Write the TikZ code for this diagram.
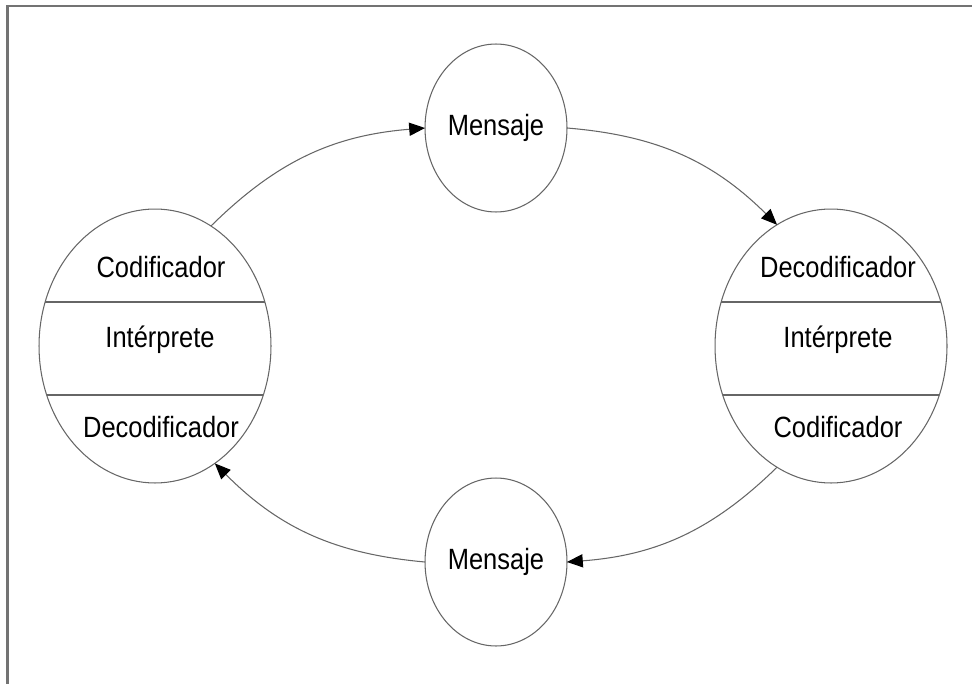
\documentclass[tikz,border=0pt]{standalone}
\usepackage{fontspec}
\setmainfont{Liberation Sans}
\usetikzlibrary{shapes.geometric,arrows.meta}
\newcommand{\tallt}[1]{\scalebox{1}[1.15]{#1}}

\begin{document}
\begin{tikzpicture}[x=0.02cm,y=0.02cm,
    every node/.style={inner sep=0pt,outer sep=0pt,font=\fontsize{14.5}{17}\selectfont},
    rim/.style={draw=black!60,line width=0.6pt},
    agent/.style={rim,ellipse,minimum width=4.64cm,minimum height=5.48cm},
    msg/.style={rim,ellipse,minimum width=2.84cm,minimum height=3.36cm},
    flow/.style={draw=black!60,line width=0.6pt,-{Triangle[length=9pt,width=7.5pt,color=black]},bend left=20}]
    \useasboundingbox (0,0) rectangle (972,684);
    % frame
    \draw [black!55,line width=1.2pt] (972,678) -- (7.5,678) -- (7.5,0);
    % the four circles
    \node [agent] (emisor) at (155,338) {};
    \node [agent] (receptor) at (831,338) {};
    \node [msg] (msgtop) at (496,556) {\tallt{Mensaje}};
    \node [msg] (msgbot) at (496,122) {\tallt{Mensaje}};
    % bands inside the big circles
    \begin{scope}
    \clip (emisor.center) ellipse [x radius=116, y radius=137];
    \draw [rim] (0,382) -- (320,382);
    \draw [rim] (0,289) -- (320,289);
    \end{scope}
    \begin{scope}
    \clip (receptor.center) ellipse [x radius=116, y radius=137];
    \draw [rim] (680,382) -- (972,382);
    \draw [rim] (680,289) -- (972,289);
    \end{scope}
    \node (ecod) at (161,417) {\tallt{Codificador}};
    \node (eint) at (160,344) {\tallt{Intérprete}};
    \node (edec) at (161,257) {\tallt{Decodificador}};
    \node (rdec) at (838,417) {\tallt{Decodificador}};
    \node (rint) at (838,344) {\tallt{Intérprete}};
    \node (rcod) at (838,257) {\tallt{Codificador}};
    % arrows
    \draw [flow] (emisor.65) to (msgtop.west);
    \draw [flow] (msgtop.east) to (receptor.114);
    \draw [flow] (receptor.246) to (msgbot.east);
    \draw [flow] (msgbot.west) to (emisor.297);
\end{tikzpicture}
\end{document}
